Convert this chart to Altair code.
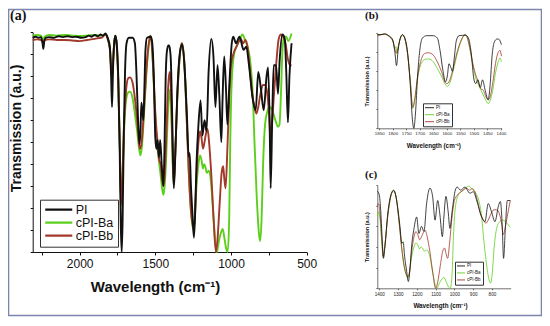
import altair as alt
import pandas as pd

series_names = ["PI", "cPI-Ba", "cPI-Bb"]
series_colors = ["#111111", "#5ccf1c", "#a3392b"]
panel_tags = ["(a)", "(b)", "(c)"]
frame_color = "#7d84ad"

# ---- PI (black) : wavenumber (cm-1) and transmission (a.u.) ----
pi_wn = [2310, 2290, 2270, 2255, 2245, 2240, 2234, 2225, 2200, 2170, 2140, 2110, 2080, 2050, 2020,
         1990, 1960, 1940, 1920, 1900, 1880, 1860, 1856, 1845, 1830, 1815, 1800, 1792, 1786, 1780,
         1772, 1764, 1755, 1745, 1735, 1728, 1722, 1716, 1708, 1700, 1690, 1675, 1650, 1635, 1625,
         1615, 1605, 1598, 1592, 1585, 1579, 1572, 1565, 1555, 1530, 1520, 1510, 1500, 1493, 1485,
         1476, 1468, 1458, 1447, 1440, 1432, 1424, 1414, 1410, 1405, 1398, 1395, 1385, 1378, 1370,
         1355, 1335, 1322, 1305, 1290, 1280, 1273, 1265, 1255, 1245, 1237, 1228, 1215, 1201, 1189,
         1175, 1162, 1148, 1130, 1116, 1103, 1089, 1077, 1064, 1056, 1045, 1033, 1024, 1011, 995,
         985, 967, 944, 917, 899, 882, 855, 837, 820, 802, 784, 765, 755, 745, 738, 728, 718, 702,
         690, 678, 660, 645, 635, 624, 614, 600]
pi_t = [97.5, 98, 97.5, 97.8, 95, 92.5, 95.5, 97.5, 97.8, 97.5, 98.2, 97.8, 98.2, 97.8, 98,
        97.5, 97.8, 98.5, 98, 98.8, 98.2, 99, 98.8, 98.5, 99.5, 97.5, 93, 80, 66, 82,
        95, 98.5, 95, 80, 45, 12, 0, 15, 55, 82, 95, 97.5, 97.5, 95, 82,
        62, 49, 55, 68, 64, 60, 75, 92, 97.5, 98, 95, 80, 52, 47, 51,
        43, 51, 40, 30, 45, 78, 91, 94, 94, 93, 88, 82, 50, 29, 40,
        72, 92, 94.5, 82, 60, 43.5, 45, 30.6, 17.7, 6.5, 17.7, 40, 58, 69, 53,
        60, 55, 82, 97, 89, 66, 85, 71, 50, 69, 89, 74, 58, 76, 95,
        98, 95, 98, 92, 93.5, 85.5, 69, 64.5, 82, 74, 64.5, 80, 84, 60, 29, 60, 85, 85,
        72, 88, 99, 97, 82, 59, 80, 95]

# ---- cPI-Ba (green) ----
ba_wn = [2310, 2280, 2255, 2242, 2232, 2200, 2150, 2100, 2050, 2000, 1950, 1900, 1860, 1856, 1830,
         1815, 1800, 1792, 1788, 1784, 1778, 1770, 1764, 1755, 1745, 1735, 1726, 1718, 1708, 1695,
         1680, 1667, 1650, 1635, 1620, 1605, 1598, 1590, 1575, 1560, 1545, 1533, 1525, 1515, 1505,
         1495, 1480, 1465, 1455, 1447, 1440, 1430, 1420, 1410, 1403, 1398, 1395, 1387, 1379, 1370,
         1355, 1340, 1325, 1310, 1295, 1280, 1268, 1255, 1248, 1240, 1228, 1215, 1205, 1195, 1185,
         1178, 1170, 1160, 1148, 1140, 1130, 1115, 1100, 1092, 1085, 1070, 1055, 1045, 1030, 1022,
         1012, 1005, 995, 980, 960, 940, 925, 905, 885, 870, 855, 845, 830, 815, 807,
         798, 788, 775, 760, 745, 730, 720, 702, 690, 680, 670, 660, 650, 635, 622, 600]
ba_t = [98.5, 98.8, 98.5, 96.5, 98, 98.8, 98.5, 98.8, 98.5, 98.3, 98.5, 98.8, 98.5, 98.5, 99,
        97.5, 93, 84, 86, 79, 88, 96, 98.5, 94, 78, 50, 21, 30, 52, 68,
        72.6, 73, 70, 63, 55, 46, 44, 47, 62, 80, 93, 98.5, 96, 84, 68,
        55, 44, 35, 29, 26, 29, 40, 58, 70, 74, 70, 65, 45, 30.6, 42,
        70, 88, 95, 88, 65, 38, 22, 12, 10, 14, 30, 40, 44, 42, 38,
        40, 39, 36, 37, 36, 30, 15, 2, 0, 3, 8, 10.5, 7, 1, 0,
        15, 50, 78, 90, 94, 97, 99, 96, 92, 85, 70, 50, 25, 8, 5,
        15, 40, 58, 64, 66, 65, 63, 59, 57, 58, 72, 92, 98, 98, 96, 99.5]

# ---- cPI-Bb (brown) ----
bb_wn = [2310, 2280, 2255, 2242, 2232, 2200, 2150, 2100, 2050, 2000, 1950, 1900, 1860, 1856, 1830,
         1815, 1800, 1786, 1778, 1770, 1764, 1755, 1745, 1735, 1726, 1718, 1708, 1695, 1680, 1667,
         1650, 1635, 1620, 1605, 1600, 1590, 1575, 1560, 1545, 1533, 1525, 1515, 1505, 1495, 1485,
         1475, 1465, 1455, 1447, 1440, 1430, 1420, 1410, 1403, 1398, 1395, 1387, 1379, 1370, 1355,
         1340, 1325, 1310, 1295, 1280, 1268, 1255, 1248, 1240, 1228, 1215, 1205, 1195, 1185, 1175,
         1165, 1155, 1145, 1130, 1115, 1100, 1090, 1075, 1062, 1052, 1045, 1036, 1025, 1012, 1000,
         985, 960, 935, 920, 905, 890, 875, 860, 845, 832, 820, 805, 790, 775, 760,
         748, 740, 730, 718, 702, 685, 670, 655, 640, 625, 610, 600]
bb_t = [96.5, 96.8, 96.5, 95.5, 96.5, 96.8, 96.5, 96.5, 96.3, 96, 96.5, 97, 97.5, 97.5, 99,
        97, 92, 79, 88, 96, 98.5, 94, 78, 50, 22, 32, 55, 72, 79, 79.5,
        77, 70, 60, 48, 47, 50, 65, 82, 94, 98.5, 96, 85, 70, 58, 50,
        42, 40, 33, 30, 33, 48, 68, 80, 82, 76, 70, 48, 31, 42, 70,
        88, 95, 88, 65, 38, 22, 13, 11, 15, 35, 50, 55, 52, 47, 50,
        54, 56, 50, 35, 15, 0, 5, 22, 36, 39, 34, 29, 45, 70, 85,
        90, 94, 97, 95, 96.5, 93, 83, 72, 66, 63, 66, 72, 76, 76, 72,
        62, 52, 58, 70, 85, 97, 99, 98, 95, 88, 85, 85]

rows = []
for name, wns, ts in [("cPI-Ba", ba_wn, ba_t), ("cPI-Bb", bb_wn, bb_t), ("PI", pi_wn, pi_t)]:
    for w, t in zip(wns, ts):
        rows.append({"series": name, "wn": w, "t": t})
df = pd.DataFrame(rows)

FONT = "Liberation Sans"
W, H = 534, 310


def color_enc(lx, ly, fs, sym_len, row_h, pad, lw, loff):
    return alt.Color(
        "series:N",
        scale=alt.Scale(domain=series_names, range=series_colors),
        legend=alt.Legend(
            orient="none", legendX=lx, legendY=ly, title=None,
            symbolType="stroke", symbolSize=sym_len * sym_len, symbolStrokeWidth=lw,
            clipHeight=row_h, rowPadding=0, padding=pad, labelOffset=loff,
            labelFontSize=fs, labelFont=FONT, labelColor="#111",
            strokeColor="#333", fillColor="white",
        ),
    )


# ---------------- panel (a) ----------------
pa = alt.Chart(df).mark_line(strokeWidth=1.9, interpolate="monotone").encode(
    x=alt.X("wn:Q",
            scale=alt.Scale(domain=[2310, 500], range=[24.7, 298.7], nice=False, zero=False),
            axis=alt.Axis(orient="bottom", offset=244 - H,
                          values=[2250, 2000, 1750, 1500, 1250, 1000, 750, 500],
                          labelExpr="datum.value % 500 == 0 ? format(datum.value, 'd') : ''",
                          labelOverlap=False, labelFlush=False,
                          tickSize=3, labelPadding=3, labelFontSize=12, labelFont=FONT,
                          labelColor="#111", domainColor="#111", tickColor="#111", grid=False,
                          title="Wavelength (cm⁻¹)", titleFont=FONT, titleFontSize=15,
                          titleFontWeight="bold", titleColor="#111",
                          titleX=147, titleY=34.7, titleBaseline="middle", titleAlign="center")),
    y=alt.Y("t:Q",
            scale=alt.Scale(domain=[0, 100], range=[244, 24.3], nice=False, zero=False),
            axis=alt.Axis(orient="left", offset=-24.7, values=list(range(0, 101, 10)),
                          labels=False, tickSize=2.5, domainColor="#111", tickColor="#111", grid=False,
                          title="Transmission (a.u.)", titleFont=FONT, titleFontSize=14,
                          titleFontWeight="bold", titleColor="#111", titleAngle=270,
                          titleX=-16.7, titleY=120, titleBaseline="middle", titleAlign="center")),
    color=color_enc(32, 191.7, 12.5, 27, 12.5, 3.75, 2.2, 2),
)

# ---------------- panel (b) ----------------
pb = alt.Chart(df).transform_filter(
    (alt.datum.wn <= 1857) & (alt.datum.wn >= 1397)
).mark_line(strokeWidth=0.8, interpolate="monotone").encode(
    x=alt.X("wn:Q",
            scale=alt.Scale(domain=[1857, 1397], range=[369.3, 493.7], nice=False, zero=False),
            axis=alt.Axis(orient="bottom", offset=120.3 - H,
                          values=list(range(1850, 1399, -50)), format="d",
                          labelOverlap=False, labelFlush=False,
                          tickSize=1.5, labelPadding=1.5, labelFontSize=4.4, labelFont=FONT,
                          labelColor="#222", domainColor="#333", tickColor="#333", grid=False,
                          domainWidth=0.7, tickWidth=0.7,
                          title="Wavelength (cm⁻¹)", titleFont=FONT, titleFontSize=6.3,
                          titleFontWeight="bold", titleColor="#111",
                          titleX=425.3, titleY=16.7, titleBaseline="middle", titleAlign="center")),
    y=alt.Y("t:Q",
            scale=alt.Scale(domain=[0, 100], range=[120.3, 25.3], nice=False, zero=False),
            axis=alt.Axis(orient="left", offset=-369.3, values=list(range(0, 101, 20)),
                          labels=False, tickSize=1.5, domainColor="#333", tickColor="#333", grid=False,
                          domainWidth=0.7, tickWidth=0.7,
                          title="Transmission (a.u.)", titleFont=FONT, titleFontSize=5.5,
                          titleFontWeight="bold", titleColor="#111", titleAngle=270,
                          titleX=-11.3, titleY=73, titleBaseline="middle", titleAlign="center")),
    color=color_enc(415, 95.3, 4.5, 9, 5.8, 1.5, 0.9, 1.5),
)

# ---------------- panel (c) ----------------
pc = alt.Chart(df).transform_filter(
    (alt.datum.wn <= 1411) & (alt.datum.wn >= 700)
).mark_line(strokeWidth=0.8, interpolate="monotone").encode(
    x=alt.X("wn:Q",
            scale=alt.Scale(domain=[1410.6, 700], range=[369.3, 502.7], nice=False, zero=False),
            axis=alt.Axis(orient="bottom", offset=280.3 - H,
                          values=list(range(1400, 799, -100)), format="d",
                          labelOverlap=False, labelFlush=False,
                          tickSize=1.5, labelPadding=1.5, labelFontSize=4.6, labelFont=FONT,
                          labelColor="#222", domainColor="#333", tickColor="#333", grid=False,
                          domainWidth=0.7, tickWidth=0.7,
                          title="Wavelength (cm⁻¹)", titleFont=FONT, titleFontSize=6.3,
                          titleFontWeight="bold", titleColor="#111",
                          titleX=432, titleY=17.5, titleBaseline="middle", titleAlign="center")),
    y=alt.Y("t:Q",
            scale=alt.Scale(domain=[0, 100], range=[280.3, 177], nice=False, zero=False),
            axis=alt.Axis(orient="left", offset=-369.3, values=list(range(0, 101, 20)),
                          labels=False, tickSize=1.5, domainColor="#333", tickColor="#333", grid=False,
                          domainWidth=0.7, tickWidth=0.7,
                          title="Transmission (a.u.)", titleFont=FONT, titleFontSize=5.5,
                          titleFontWeight="bold", titleColor="#111", titleAngle=270,
                          titleX=-10.6, titleY=228.7, titleBaseline="middle", titleAlign="center")),
    color=color_enc(447, 253.7, 4.5, 8, 5.5, 1.5, 0.9, 1.5),
)

one = pd.DataFrame({"k": [0]})
frame = alt.Chart(one).mark_rect(fill=None, stroke=frame_color, strokeWidth=1.6).encode(
    x=alt.value(0.5), x2=alt.value(533.5), y=alt.value(1.5), y2=alt.value(307.5))


def tag(i, px, py, fs):
    return alt.Chart(one).mark_text(font="Liberation Serif", fontWeight="bold", fontSize=fs,
                                    align="left", baseline="middle", color="#111").encode(
        x=alt.value(px), y=alt.value(py), text=alt.value(panel_tags[i]))


chart = alt.layer(
    frame, pa, pb, pc,
    tag(0, 2, 7.5, 14), tag(1, 357, 7.5, 11), tag(2, 357, 167, 11),
).resolve_scale(
    x="independent", y="independent", color="independent"
).resolve_axis(
    x="independent", y="independent"
).resolve_legend(
    color="independent"
).properties(
    width=W, height=H, padding=0, autosize=alt.AutoSizeParams(type="none"),
    background="white",
).configure_view(stroke=None)

chart.save("out.html", embed_options={"renderer": "svg", "actions": False})
